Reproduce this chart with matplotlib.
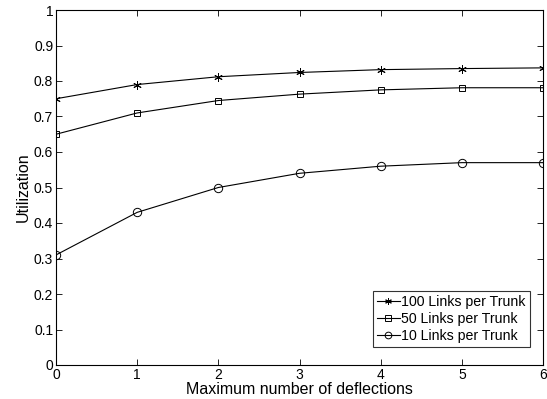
import matplotlib
matplotlib.use("Agg")
import matplotlib.pyplot as plt
import numpy as np

deflections = [0, 1, 2, 3, 4, 5, 6]
util_100 = [0.75, 0.79, 0.812, 0.824, 0.832, 0.835, 0.837]
util_50 = [0.65, 0.71, 0.745, 0.763, 0.775, 0.781, 0.781]
util_10 = [0.31, 0.43, 0.50, 0.54, 0.56, 0.57, 0.57]
labels = ['100 Links per Trunk', '50 Links per Trunk', '10 Links per Trunk']

plt.rcParams['font.family'] = ['Liberation Sans', 'DejaVu Sans']

fig = plt.figure(figsize=(5.47, 3.99), dpi=100)
# axes box: left 56px, right 543px, top 10px, bottom 365px
ax = fig.add_axes([56/547, 1 - 365/399, (543 - 56)/547, (365 - 10)/399])

ast = (6, 2, 0)  # asterisk marker like matlab '*'
ax.plot(deflections, util_100, '-', marker=ast, color='k', lw=0.8, ms=6, mew=0.7, label=labels[0])
ax.plot(deflections, util_50, '-s', color='k', lw=0.8, ms=5, mew=0.7, mfc='none', label=labels[1])
ax.plot(deflections, util_10, '-o', color='k', lw=0.8, ms=6, mew=0.7, mfc='none', label=labels[2])

ax.set_xlim(0, 6)
ax.set_ylim(0, 1)
ax.set_xticks(deflections)
ax.set_yticks(np.arange(0, 1.01, 0.1))
ax.set_yticklabels(['0', '0.1', '0.2', '0.3', '0.4', '0.5', '0.6', '0.7', '0.8', '0.9', '1'])
ax.tick_params(direction='in', top=True, right=True, labelsize=10, length=4, width=0.6, pad=2)
for s in ax.spines.values():
    s.set_linewidth(0.8)

ax.set_xlabel('Maximum number of deflections', fontsize=11.5, labelpad=0)
ax.set_ylabel('Utilization', fontsize=11.5, labelpad=2)

leg = ax.legend(loc='lower right', bbox_to_anchor=(0.973, 0.05), borderaxespad=0,
                fontsize=10.2, fancybox=False, edgecolor='k', markerscale=0.8,
                handlelength=1.6, handletextpad=0.1, borderpad=0.3, labelspacing=0.2)
leg.get_frame().set_linewidth(0.8)

fig.savefig('out.png', dpi=100)
